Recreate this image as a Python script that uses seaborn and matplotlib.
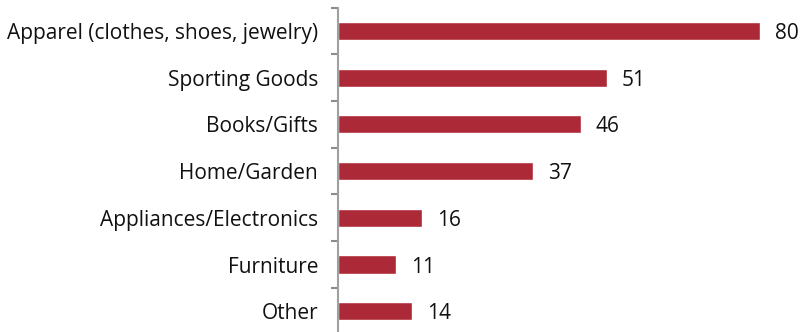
import matplotlib
matplotlib.use("Agg")
import matplotlib.pyplot as plt
import seaborn as sns
import pandas as pd
import numpy as np

categories = [
    "Apparel (clothes, shoes, jewelry)",
    "Sporting Goods",
    "Books/Gifts",
    "Home/Garden",
    "Appliances/Electronics",
    "Furniture",
    "Other",
]
values = [80, 51, 46, 37, 16, 11, 14]

df = pd.DataFrame({"category": categories, "value": values})

sns.set_style("white")
plt.rcParams["font.family"] = ["Open Sans", "DejaVu Sans"]

W, H = 802, 332
fig = plt.figure(figsize=(W / 100, H / 100), dpi=100)
ax = fig.add_axes([338 / W, -2.6 / H, 464 / W, 327 / H])

bar_color = "#AC2A37"
sns.barplot(data=df, y="category", x="value", orient="h", color=bar_color,
            width=0.39, saturation=1, ax=ax)

ax.set_xlim(0, 88)
ax.set_ylim(len(categories) - 0.5, -0.5)
ax.set_xlabel("")
ax.set_ylabel("")
ax.set_xticks([])

for s in ["top", "right", "bottom"]:
    ax.spines[s].set_visible(False)
ax.spines["left"].set_color("#A0A0A0")
ax.spines["left"].set_linewidth(1.5)

# category labels without tick marks; tick marks sit at category boundaries
ax.tick_params(axis="y", which="major", left=False, length=0, pad=14.4,
               labelsize=15, labelcolor="#111111")
for lbl in ax.get_yticklabels():
    lbl.set_va("center_baseline")
ax.set_yticks(np.arange(-0.5, len(categories) + 0.5), minor=True)
ax.tick_params(axis="y", which="minor", left=True, length=5, width=1.5,
               color="#8C8C8C")

for i, v in enumerate(values):
    ax.text(v + 2.8, i, f"{v}", va="center_baseline", ha="left",
            fontsize=15, color="#111111")

fig.savefig("out.png", dpi=100)
